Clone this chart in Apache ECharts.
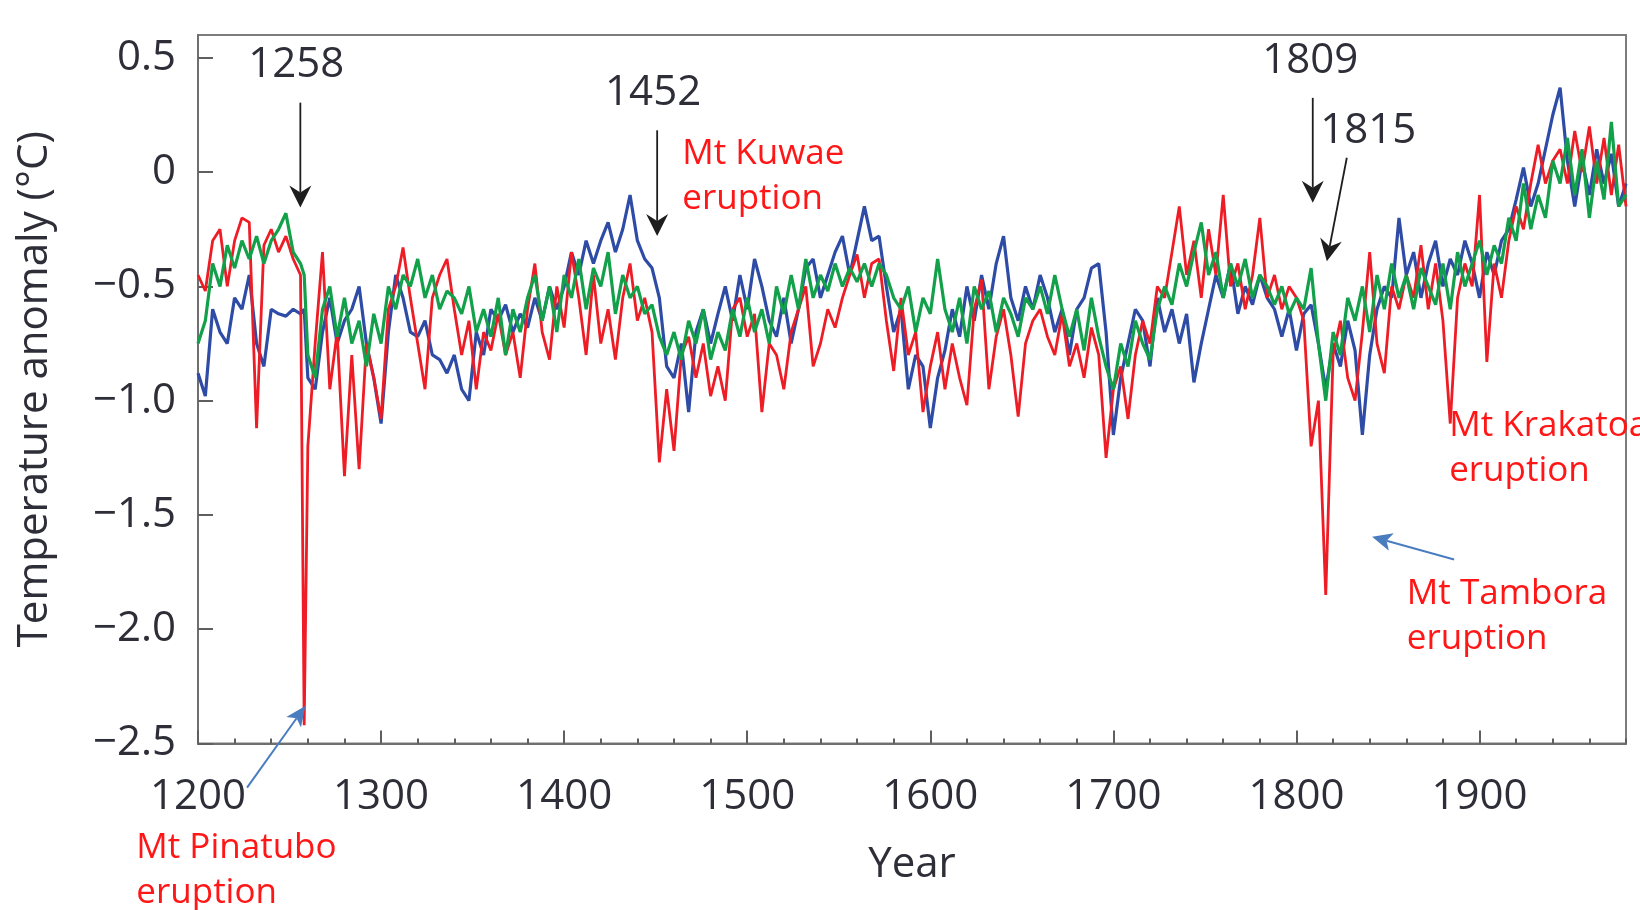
<!DOCTYPE html>
<html><head><meta charset="utf-8">
<script src="https://cdn.jsdelivr.net/npm/echarts@6/dist/echarts.min.js"></script>
<style>html,body{margin:0;padding:0;background:#fff}#c{width:1640px;height:910px}</style>
</head><body><div id="c"></div>
<script>
// Years sampled (4-year steps, plus the 1258 eruption year)
const years = [
1200,1204,1208,1212,1216,1220,1224,1228,1232,1236,1240,1244,1248,1252,1256,1258,1260,1264,1268,1272,1276,1280,1284,1288,1292,1296,
1300,1304,1308,1312,1316,1320,1324,1328,1332,1336,1340,1344,1348,1352,1356,1360,1364,1368,1372,1376,1380,1384,1388,1392,1396,
1400,1404,1408,1412,1416,1420,1424,1428,1432,1436,1440,1444,1448,1452,1456,1460,1464,1468,1472,1476,1480,1484,1488,1492,1496,
1500,1504,1508,1512,1516,1520,1524,1528,1532,1536,1540,1544,1548,1552,1556,1560,1564,1568,1572,1576,1580,1584,1588,1592,1596,
1600,1604,1608,1612,1616,1620,1624,1628,1632,1636,1640,1644,1648,1652,1656,1660,1664,1668,1672,1676,1680,1684,1688,1692,1696,
1700,1704,1708,1712,1716,1720,1724,1728,1732,1736,1740,1744,1748,1752,1756,1760,1764,1768,1772,1776,1780,1784,1788,1792,1796,
1800,1804,1808,1812,1816,1820,1824,1828,1832,1836,1840,1844,1848,1852,1856,1860,1864,1868,1872,1876,1880,1884,1888,1892,1896,
1900,1904,1908,1912,1916,1920,1924,1928,1932,1936,1940,1944,1948,1952,1956,1960,1964,1968,1972,1976,1980];

const redSeries = [
-0.45,-0.52,-0.3,-0.25,-0.5,-0.3,-0.2,-0.22,-1.12,-0.32,-0.25,-0.35,-0.28,-0.38,-0.45,-2.42,-1.2,-0.75,-0.35,-0.95,-0.7,-1.33,-0.8,-1.3,-0.75,-0.9,
-1.08,-0.6,-0.5,-0.33,-0.55,-0.75,-0.95,-0.55,-0.45,-0.38,-0.6,-0.8,-0.65,-0.95,-0.7,-0.78,-0.62,-0.8,-0.7,-0.9,-0.6,-0.4,-0.7,-0.82,-0.5,
-0.68,-0.35,-0.55,-0.8,-0.45,-0.75,-0.6,-0.82,-0.55,-0.4,-0.65,-0.55,-0.7,-1.27,-0.95,-1.22,-0.8,-0.72,-0.9,-0.75,-0.98,-0.85,-1.0,-0.6,-0.55,
-0.72,-0.62,-1.05,-0.75,-0.8,-0.95,-0.7,-0.6,-0.5,-0.85,-0.75,-0.6,-0.68,-0.55,-0.45,-0.36,-0.55,-0.4,-0.38,-0.65,-0.87,-0.55,-0.8,-0.7,-1.05,
-0.85,-0.7,-0.95,-0.75,-0.9,-1.02,-0.6,-0.47,-0.95,-0.72,-0.6,-0.8,-1.07,-0.75,-0.65,-0.6,-0.72,-0.8,-0.62,-0.85,-0.75,-0.9,-0.68,-0.8,-1.25,
-0.95,-0.85,-1.08,-0.8,-0.65,-0.75,-0.5,-0.55,-0.35,-0.15,-0.45,-0.3,-0.55,-0.25,-0.45,-0.1,-0.5,-0.4,-0.6,-0.45,-0.2,-0.55,-0.45,-0.6,-0.5,
-0.55,-0.65,-1.2,-1.0,-1.85,-0.8,-0.65,-0.9,-1.0,-0.7,-0.35,-0.75,-0.88,-0.5,-0.6,-0.45,-0.55,-0.32,-0.6,-0.4,-0.65,-1.1,-0.55,-0.4,-0.5,
-0.1,-0.83,-0.4,-0.55,-0.3,-0.15,-0.25,-0.05,0.12,-0.05,0.05,0.1,-0.05,0.18,0.0,0.2,-0.05,0.15,-0.1,0.12,-0.15];

const blueSeries = [
-0.88,-0.98,-0.6,-0.7,-0.75,-0.55,-0.6,-0.45,-0.75,-0.85,-0.6,-0.62,-0.63,-0.6,-0.62,-0.6,-0.9,-0.95,-0.7,-0.55,-0.75,-0.65,-0.6,-0.5,-0.75,-0.9,
-1.1,-0.7,-0.45,-0.55,-0.7,-0.72,-0.65,-0.8,-0.82,-0.88,-0.8,-0.95,-1.0,-0.7,-0.8,-0.6,-0.65,-0.58,-0.7,-0.62,-0.68,-0.55,-0.65,-0.5,-0.6,
-0.5,-0.35,-0.45,-0.3,-0.4,-0.3,-0.22,-0.35,-0.25,-0.1,-0.3,-0.38,-0.42,-0.55,-0.85,-0.9,-0.75,-1.05,-0.7,-0.6,-0.75,-0.62,-0.5,-0.65,-0.45,
-0.6,-0.38,-0.5,-0.65,-0.72,-0.55,-0.75,-0.6,-0.42,-0.38,-0.55,-0.45,-0.35,-0.28,-0.45,-0.3,-0.15,-0.3,-0.28,-0.5,-0.7,-0.6,-0.95,-0.8,-0.85,
-1.12,-0.9,-0.78,-0.6,-0.72,-0.5,-0.65,-0.45,-0.6,-0.4,-0.28,-0.55,-0.65,-0.5,-0.6,-0.45,-0.55,-0.7,-0.6,-0.8,-0.6,-0.55,-0.42,-0.4,-0.7,
-1.15,-0.9,-0.75,-0.6,-0.65,-0.85,-0.55,-0.7,-0.6,-0.75,-0.62,-0.92,-0.75,-0.6,-0.45,-0.55,-0.4,-0.62,-0.5,-0.58,-0.45,-0.55,-0.6,-0.72,-0.6,
-0.78,-0.62,-0.58,-0.75,-0.95,-0.75,-0.85,-0.65,-0.78,-1.15,-0.8,-0.6,-0.5,-0.55,-0.2,-0.45,-0.35,-0.55,-0.4,-0.3,-0.5,-0.38,-0.45,-0.3,-0.4,
-0.55,-0.35,-0.45,-0.3,-0.25,-0.12,0.02,-0.15,-0.05,0.1,0.25,0.37,0.05,-0.15,0.05,-0.1,0.1,-0.05,0.08,-0.15,-0.05];

const greenSeries = [
-0.75,-0.65,-0.4,-0.5,-0.32,-0.42,-0.3,-0.38,-0.28,-0.4,-0.3,-0.25,-0.18,-0.35,-0.4,-0.45,-0.8,-0.9,-0.6,-0.5,-0.72,-0.55,-0.75,-0.65,-0.85,-0.62,
-0.75,-0.5,-0.6,-0.45,-0.5,-0.38,-0.55,-0.45,-0.6,-0.52,-0.55,-0.62,-0.5,-0.7,-0.6,-0.72,-0.55,-0.8,-0.6,-0.7,-0.55,-0.45,-0.65,-0.5,-0.7,
-0.45,-0.55,-0.38,-0.6,-0.42,-0.5,-0.35,-0.62,-0.45,-0.55,-0.5,-0.62,-0.58,-0.72,-0.8,-0.7,-0.82,-0.65,-0.75,-0.6,-0.82,-0.7,-0.78,-0.6,-0.72,
-0.55,-0.7,-0.6,-0.75,-0.5,-0.62,-0.45,-0.6,-0.38,-0.55,-0.45,-0.52,-0.4,-0.5,-0.42,-0.48,-0.4,-0.5,-0.4,-0.45,-0.55,-0.6,-0.5,-0.7,-0.55,
-0.62,-0.38,-0.6,-0.7,-0.55,-0.75,-0.5,-0.6,-0.52,-0.7,-0.55,-0.62,-0.72,-0.55,-0.6,-0.5,-0.62,-0.45,-0.6,-0.72,-0.6,-0.78,-0.55,-0.72,-0.85,
-0.95,-0.75,-0.85,-0.65,-0.75,-0.82,-0.6,-0.5,-0.58,-0.4,-0.5,-0.35,-0.22,-0.45,-0.35,-0.55,-0.4,-0.5,-0.38,-0.55,-0.45,-0.5,-0.58,-0.5,-0.62,
-0.55,-0.6,-0.42,-0.75,-1.0,-0.7,-0.8,-0.55,-0.65,-0.5,-0.7,-0.45,-0.6,-0.4,-0.55,-0.45,-0.6,-0.42,-0.5,-0.58,-0.4,-0.6,-0.35,-0.5,-0.4,
-0.3,-0.45,-0.32,-0.4,-0.2,-0.3,-0.05,-0.25,-0.1,-0.2,0.05,-0.05,0.15,-0.1,0.1,-0.2,0.05,-0.12,0.22,-0.15,-0.1];

const xTickValues = [1200,1300,1400,1500,1600,1700,1800,1900];
const yTickValues = [-2.5,-2,-1.5,-1,-0.5,0,0.5];

// Annotations in data coordinates
const yearLabels = [
  {text:'1258', x:1253.7, y:0.47},
  {text:'1452', x:1448.6, y:0.344},
  {text:'1809', x:1807.5, y:0.488},
  {text:'1815', x:1839.2, y:0.18}
];
const blackArrows = [
  {from:[1255.9,0.304], to:[1255.9,-0.155]},
  {from:[1450.8,0.183], to:[1450.8,-0.279]},
  {from:[1808.9,0.325], to:[1808.9,-0.134]},
  {from:[1827.5,0.063], to:[1816.6,-0.39]}
];
const blueArrows = [
  {from:[1226.8,-2.693], to:[1258.6,-2.336]},
  {from:[1886.1,-1.695], to:[1841.3,-1.595]}
];
const eruptionNotes = [
  {text:'Mt Kuwae\neruption', x:1464.5, y:0.081},
  {text:'Mt Krakatoa\neruption', x:1883.4, y:-1.113},
  {text:'Mt Tambora\neruption', x:1860.3, y:-1.848},
  {text:'Mt Pinatubo\neruption', x:1166.3, y:-2.959}
];

const FONT = '"Open Sans", "Noto Sans", sans-serif';
const TXT = '#2e2e38';
const fmtY = v => v === 0 ? '0' : (v < 0 ? '\u2212' + Math.abs(v).toFixed(1) : v.toFixed(1));
const fmtX = v => String(Math.round(v));
const mk = vals => years.map((yr, i) => [yr, vals[i]]);

const chart = echarts.init(document.getElementById('c'));
chart.setOption({
  animation: false,
  backgroundColor: '#fff',
  grid: {left:198, right:14, top:35, bottom:166.5, show:true, borderColor:'#7d7d7d', borderWidth:2, outerBoundsMode:'none', containLabel:false},
  xAxis: [
    {type:'value', min:1200, max:1980, interval:100, position:'bottom',
     axisLine:{show:true, onZero:false, lineStyle:{color:'#6f6f6f', width:2}},
     axisTick:{show:true, inside:true, length:13, customValues:xTickValues, lineStyle:{color:'#5f5f5f', width:2}},
     axisLabel:{customValues:xTickValues, formatter:fmtX, fontSize:42, fontFamily:FONT, color:TXT, margin:33},
     splitLine:{show:false},
     name:'Year', nameLocation:'middle', nameGap:101,
     nameTextStyle:{fontSize:42, fontFamily:FONT, color:TXT}},
    {type:'value', min:1200, max:1980, interval:20, position:'bottom',
     axisLine:{show:false, onZero:false},
     axisTick:{show:true, inside:true, length:5, lineStyle:{color:'#5f5f5f', width:2}},
     axisLabel:{show:false}, splitLine:{show:false}}
  ],
  yAxis: {type:'value', min:-2.5, max:0.6, interval:0.5,
     axisLine:{show:true, onZero:false, lineStyle:{color:'#6f6f6f', width:2}},
     axisTick:{show:true, inside:true, length:15, customValues:yTickValues, lineStyle:{color:'#5f5f5f', width:2}},
     axisLabel:{customValues:yTickValues, formatter:fmtY, fontSize:42, fontFamily:FONT, color:TXT, margin:22},
     splitLine:{show:false},
     name:'Temperature anomaly (\u00B0C)', nameLocation:'middle', nameGap:142,
     nameTextStyle:{fontSize:42, fontFamily:FONT, color:TXT}},
  series: [
    {type:'line', name:'blue', data:mk(blueSeries), symbol:'none', lineStyle:{color:'#2e4ca6', width:3.2}, z:2, xAxisIndex:0},
    {type:'line', name:'red', data:mk(redSeries), symbol:'none', lineStyle:{color:'#ee1c25', width:2.8}, z:3, xAxisIndex:0},
    {type:'line', name:'green', data:mk(greenSeries), symbol:'none', lineStyle:{color:'#12a04a', width:3.2}, z:4, xAxisIndex:0}
  ]
});

const px = p => chart.convertToPixel({xAxisIndex:0, yAxisIndex:0}, p);
const graphics = [];
function arrow(from, to, color, lw, L, W, notch) {
  const a = px(from), b = px(to);
  const dx = b[0]-a[0], dy = b[1]-a[1], len = Math.hypot(dx, dy);
  const ux = dx/len, uy = dy/len, nx = -uy, ny = ux;
  const bx = b[0]-ux*L, by = b[1]-uy*L;
  const mx = b[0]-ux*(L-notch), my = b[1]-uy*(L-notch);
  graphics.push({type:'line', z:50, shape:{x1:a[0], y1:a[1], x2:mx, y2:my}, style:{stroke:color, lineWidth:lw}});
  graphics.push({type:'polygon', z:51, shape:{points:[[b[0],b[1]],[bx+nx*W,by+ny*W],[mx,my],[bx-nx*W,by-ny*W]]}, style:{fill:color}});
}
blackArrows.forEach(d => arrow(d.from, d.to, '#1e1e1e', 1.8, 22, 11, 7));
blueArrows.forEach(d => arrow(d.from, d.to, '#4a7dc0', 2, 20, 9, 5));
yearLabels.forEach(d => {
  const p = px([d.x, d.y]);
  graphics.push({type:'text', z:60, x:p[0], y:p[1], style:{text:d.text, fontSize:42, fontFamily:FONT, fill:TXT, align:'center', verticalAlign:'middle'}});
});
eruptionNotes.forEach(d => {
  const p = px([d.x, d.y]);
  graphics.push({type:'text', z:60, x:p[0], y:p[1]-22.5, style:{text:d.text, fontSize:35, lineHeight:45, fontFamily:FONT, fill:'#ff1616', align:'left', verticalAlign:'top'}});
});
chart.setOption({graphic: graphics});
</script>
</body></html>
